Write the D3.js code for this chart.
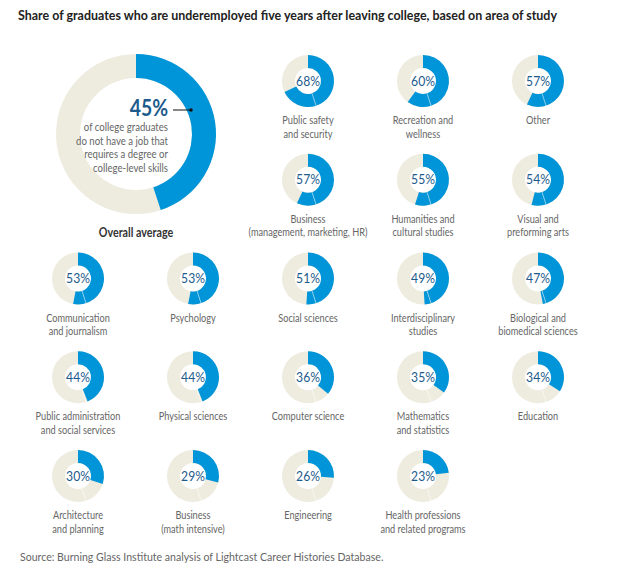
<!DOCTYPE html>
<html><head><meta charset="utf-8">
<script src="https://cdn.jsdelivr.net/npm/d3@7"></script>
<style>
html,body{margin:0;padding:0;background:#fff;}
svg{display:block;font-family:"Lato","Roboto",sans-serif;}
</style></head>
<body><svg id="c" width="640" height="579"></svg>
<script>
const title = "Share of graduates who are underemployed five years after leaving college, based on area of study";
const source = "Source: Burning Glass Institute analysis of Lightcast Career Histories Database.";
const overallValue = 45;
const overallText = ["of college graduates","do not have a job that","requires a degree or","college-level skills"];
const overallLabel = "Overall average";
const categories = [
  ["Public safety","and security"],
  ["Recreation and","wellness"],
  ["Other"],
  ["Business","(management, marketing, HR)"],
  ["Humanities and","cultural studies"],
  ["Visual and","preforming arts"],
  ["Communication","and journalism"],
  ["Psychology"],
  ["Social sciences"],
  ["Interdisciplinary","studies"],
  ["Biological and","biomedical sciences"],
  ["Public administration","and social services"],
  ["Physical sciences"],
  ["Computer science"],
  ["Mathematics","and statistics"],
  ["Education"],
  ["Architecture","and planning"],
  ["Business","(math intensive)"],
  ["Engineering"],
  ["Health professions","and related programs"]
];
const values = [68,60,57,57,55,54,53,53,51,49,47,44,44,36,35,34,30,29,26,23];

const BLUE = "#0095d8", BEIGE = "#eeebdf", PCT = "#1d5b8c", GREY = "#666";
const SX = 0.8;
const svg = d3.select("#c");

function txt(sel, x, y, s, o={}) {
  return sel.append("text")
    .attr("transform", `translate(${x},${y}) scale(${o.sx||SX},1)`)
    .attr("text-anchor", o.anchor||"start")
    .attr("font-size", o.size||11)
    .attr("font-weight", o.weight||"normal")
    .attr("fill", o.fill||GREY)
    .text(s);
}

txt(svg, 18, 20, title, {size:14, weight:"bold", fill:"#222", sx:1})
  .attr("textLength", 539).attr("lengthAdjust","spacingAndGlyphs");
txt(svg, 20, 561, source, {size:11.5, fill:"#666", sx:0.92});

const ang = d3.scaleLinear().domain([0,100]).range([0,2*Math.PI]);
const col = d3.scaleLinear().domain([0,4]).range([78,538]);
const row = d3.scaleLinear().domain([0,4]).range([81,476]);

const slots = [];
for (let r=0;r<5;r++) for (let c=0;c<5;c++){ if (r<2 && c<2) continue; slots.push([c,r]); }

// overall donut
const big = svg.append("g").attr("transform","translate(136,134)");
const bigArc = d3.arc().innerRadius(56).outerRadius(80);
big.append("path").attr("d", bigArc({startAngle:0,endAngle:2*Math.PI})).attr("fill",BEIGE);
big.append("path").attr("d", bigArc({startAngle:0,endAngle:ang(overallValue)})).attr("fill",BLUE);
txt(big, 32, -18, overallValue+"%", {anchor:"end", size:22, weight:"bold", fill:PCT, sx:0.88});
big.append("line").attr("x1",37).attr("x2",55).attr("y1",-24).attr("y2",-24).attr("stroke","#111").attr("stroke-width",1);
big.append("circle").attr("cx",55).attr("cy",-24).attr("r",1.8).attr("fill","#111");
overallText.forEach((t,i)=>{
  txt(big, 32, -3+i*13.5, t, {anchor:"end", size:12, sx:0.8});
});
txt(svg, 136, 237, overallLabel, {anchor:"middle", size:12.5, weight:"bold", fill:"#333", sx:0.86});

// small donuts
const arc = d3.arc().innerRadius(13).outerRadius(26);
values.forEach((v,i)=>{
  const [c,r] = slots[i];
  const g = svg.append("g").attr("transform",`translate(${col(c)},${row(r)})`);
  g.append("path").attr("d", arc({startAngle:0,endAngle:2*Math.PI})).attr("fill",BEIGE);
  g.append("path").attr("d", arc({startAngle:0,endAngle:ang(v)})).attr("fill",BLUE);
  const a = ang(overallValue);
  g.append("line").attr("x1",13*Math.sin(a)).attr("y1",-13*Math.cos(a))
    .attr("x2",26*Math.sin(a)).attr("y2",-26*Math.cos(a))
    .attr("stroke","#fff").attr("stroke-opacity",0.7).attr("stroke-width",0.8);
  txt(g, 0, 4.5, v+"%", {anchor:"middle", size:13.5, fill:PCT, sx:0.9});
  categories[i].forEach((t,j)=>{
    txt(g, 0, 43+j*13.5, t, {anchor:"middle", size:11.5});
  });
});
</script></body></html>
